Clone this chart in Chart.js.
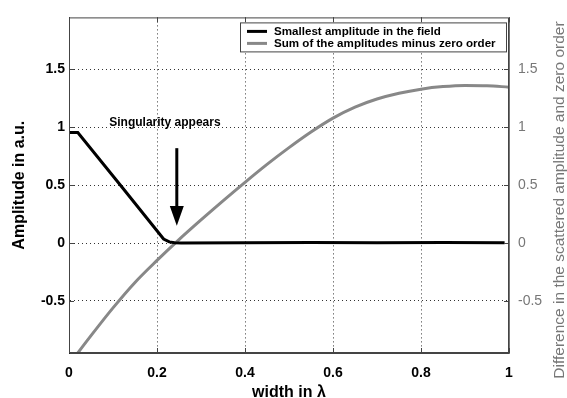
<!DOCTYPE html>
<html>
<head>
<meta charset="utf-8">
<script src="https://cdn.jsdelivr.net/npm/chart.js@4.4.1/dist/chart.umd.min.js"></script>
<style>
  html, body { margin: 0; padding: 0; background: #fff; }
</style>
</head>
<body>
<canvas id="plot" width="567" height="398"></canvas>
<script>
// data
const widthSmallest = [0, 0.02, 0.117, 0.215, 0.228, 0.24, 0.255, 0.4, 0.55, 0.7, 0.85, 0.99];
const smallestAmp   = [0.955, 0.955, 0.5, 0.035, 0.01, 0.002, 0, 0.002, 0.004, 0.002, 0.005, 0.002];

const widthSum     = [0, 0.05, 0.1, 0.15, 0.2, 0.25, 0.3, 0.35, 0.4, 0.45, 0.5, 0.55, 0.6, 0.65, 0.7, 0.75, 0.8, 0.85, 0.9, 0.95, 1];
const sumMinusZero = [-1.05, -0.8, -0.56, -0.34, -0.15, 0.03, 0.2, 0.365, 0.525, 0.68, 0.825, 0.96, 1.08, 1.175, 1.245, 1.295, 1.33, 1.352, 1.362, 1.36, 1.347];

const xTicks = [0, 0.2, 0.4, 0.6, 0.8, 1];
const yTicks = [-0.5, 0, 0.5, 1, 1.5];
const seriesNames = ['Smallest amplitude in the field', 'Sum of the amplitudes minus zero order'];

const FONT = '"Liberation Sans", Arial, Helvetica, sans-serif';
Chart.defaults.font.family = FONT;
Chart.defaults.color = '#000';

// arrow + text, legend in the box, right title reading upwards
const extras = {
  id: 'extras',
  afterDraw(chart) {
    const c = chart.ctx;
    const a = chart.chartArea;
    const sx = chart.scales.x, sy = chart.scales.y;
    c.save();

    // frame and inner ticks
    c.strokeStyle = '#444';
    c.lineWidth = 1;
    c.strokeRect(a.left + 0.5, a.top + 0.5, a.right - a.left - 1, a.bottom - a.top - 1);
    c.beginPath();
    xTicks.forEach(v => {
      const px = Math.round(sx.getPixelForValue(v)) + 0.5;
      c.moveTo(px, a.top); c.lineTo(px, a.top + 5);
      c.moveTo(px, a.bottom); c.lineTo(px, a.bottom - 5);
    });
    yTicks.forEach(v => {
      const py = Math.round(sy.getPixelForValue(v)) + 0.5;
      c.moveTo(a.left, py); c.lineTo(a.left + 5, py);
      c.moveTo(a.right, py); c.lineTo(a.right - 5, py);
    });
    c.stroke();

    // annotation
    c.fillStyle = '#000';
    c.font = 'bold 12px ' + FONT;
    c.textAlign = 'center';
    c.textBaseline = 'middle';
    c.fillText('Singularity appears', sx.getPixelForValue(0.218), sy.getPixelForValue(1.04));

    const ax = sx.getPixelForValue(0.245);
    const yTop = sy.getPixelForValue(0.82), yHead = sy.getPixelForValue(0.32), yTip = sy.getPixelForValue(0.15);
    c.strokeStyle = '#000';
    c.lineWidth = 3;
    c.beginPath(); c.moveTo(ax, yTop); c.lineTo(ax, yHead + 2); c.stroke();
    c.beginPath();
    c.moveTo(ax - 7, yHead); c.lineTo(ax + 7, yHead); c.lineTo(ax, yTip); c.closePath();
    c.fill();

    // legend box
    const bx = a.right - 269, by = a.top + 5, bw = 267, bh = 30;
    c.fillStyle = '#fff';
    c.fillRect(bx, by, bw, bh);
    c.strokeStyle = '#444';
    c.lineWidth = 1;
    c.strokeRect(bx + 0.5, by + 0.5, bw - 1, bh - 1);
    c.font = 'bold 11.6px ' + FONT;
    c.textAlign = 'left';
    chart.data.datasets.forEach((ds, i) => {
      const ly = by + 9 + i * 12;
      c.strokeStyle = ds.borderColor;
      c.lineWidth = 3;
      c.beginPath(); c.moveTo(bx + 7, ly); c.lineTo(bx + 27, ly); c.stroke();
      c.fillStyle = '#000';
      c.fillText(ds.label, bx + 34, ly);
    });

    // right axis title
    c.translate(560, 200);
    c.rotate(-Math.PI / 2);
    c.fillStyle = '#777';
    c.font = '15.5px ' + FONT;
    c.textAlign = 'center';
    c.fillText('Difference in the scattered amplitude and zero order', 0, 0);
    c.restore();
  }
};

const ctx = document.getElementById('plot');
const myChart = new Chart(ctx, {
  type: 'line',
  data: {
    datasets: [{
      label: seriesNames[0],
      data: widthSmallest.map((x, i) => ({ x: x, y: smallestAmp[i] })),
      borderColor: '#000',
      borderWidth: 3,
      pointRadius: 0,
      yAxisID: 'y',
    }, {
      label: seriesNames[1],
      data: widthSum.map((x, i) => ({ x: x, y: sumMinusZero[i] })),
      borderColor: '#888',
      borderWidth: 3,
      pointRadius: 0,
      cubicInterpolationMode: 'monotone',
      yAxisID: 'y2',
    }],
  },
  options: {
    responsive: false,
    animation: false,
    layout: { padding: { top: 7, left: 0, right: 0, bottom: 0 } },
    scales: {
      x: {
        type: 'linear',
        min: 0,
        max: 1,
        afterBuildTicks: s => { s.ticks = xTicks.map(v => ({ value: v })); },
        afterFit: s => { s.height = 45; },
        grid: { color: '#333', tickLength: 0 },
        border: { color: '#444', width: 1, dash: [1, 3] },
        ticks: {
          font: { size: 14, weight: 'bold' },
          color: '#000',
          padding: 12,
          maxRotation: 0,
          callback: v => String(v),
        },
        title: {
          display: true,
          text: 'width in λ',
          font: { size: 16, weight: 'bold' },
          color: '#000',
          padding: { top: 0, bottom: -4 },
        },
      },
      y: {
        type: 'linear',
        position: 'left',
        min: -0.95,
        max: 1.95,
        afterBuildTicks: s => { s.ticks = yTicks.map(v => ({ value: v })); },
        afterFit: s => { s.width = 69; },
        grid: { color: '#333', tickLength: 0 },
        border: { color: '#222', width: 1, dash: [1, 3] },
        ticks: {
          font: { size: 14, weight: 'bold' },
          color: '#000',
          padding: 4,
          callback: v => String(v),
        },
        title: {
          display: true,
          text: 'Amplitude in a.u.',
          font: { size: 16, weight: 'bold' },
          color: '#000',
          padding: { top: 10, bottom: 0 },
        },
      },
      y2: {
        type: 'linear',
        position: 'right',
        min: -0.95,
        max: 1.95,
        afterBuildTicks: s => { s.ticks = yTicks.map(v => ({ value: v })); },
        afterFit: s => { s.width = 58; },
        grid: { drawOnChartArea: false, tickLength: 0 },
        border: { color: '#777', width: 1 },
        ticks: {
          font: { size: 14 },
          color: '#777',
          padding: 9,
          callback: v => String(v),
        },
      },
    },
    plugins: {
      legend: { display: false },
      tooltip: { enabled: false },
    },
  },
  plugins: [extras],
});
</script>
</body>
</html>
